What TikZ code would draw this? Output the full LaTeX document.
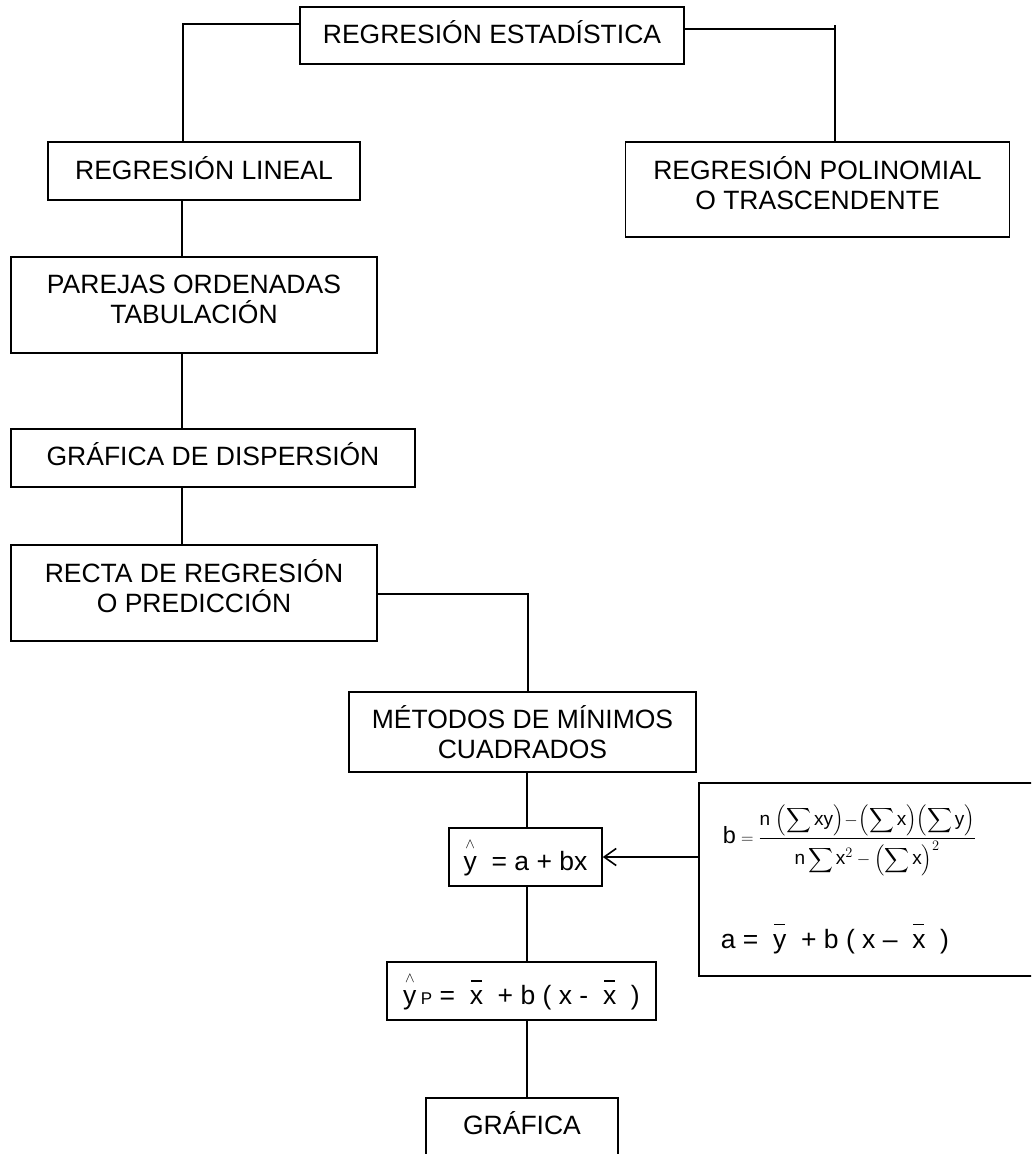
\documentclass[tikz,border=0pt]{standalone}
\usepackage{amsmath}
\usepackage{fontspec}
\setmainfont{Liberation Sans}
\usetikzlibrary{arrows.meta}

\newcommand{\barred}[1]{\ensuremath{\overset{\rule[4pt]{11pt}{1.5pt}}{\text{#1}}}}
\newcommand{\hatted}[1]{\ensuremath{\overset{\raisebox{3pt}{$\scriptscriptstyle\wedge$}}{\text{#1}}}}

\begin{document}
\begin{tikzpicture}[x=1pt,y=-1pt,line width=1.6pt,
  box/.style={draw,rectangle,align=center,inner sep=0pt,font=\fontsize{26.5}{30}\selectfont},
  lift/.style={execute at end node={\rule[-#1]{0pt}{0pt}}},
  txt/.style={inner sep=0pt,font=\fontsize{26.5}{30}\selectfont},
]
\useasboundingbox (0,0) rectangle (1031,1154);
\clip (0,0) rectangle (1031,1154);

\node (stat) [box,lift=7pt,minimum width=384pt,minimum height=57pt] at (492,35.5) {REGRESIÓN ESTADÍSTICA};
\node (lineal) [box,lift=6pt,minimum width=312pt,minimum height=58pt] at (204,171) {REGRESIÓN LINEAL};
\node (polin) [box,lift=12pt,minimum width=384pt,minimum height=95pt] at (817.5,189.5) {REGRESIÓN POLINOMIAL\\O TRASCENDENTE};
\node (parejas) [box,lift=12pt,minimum width=366pt,minimum height=96pt] at (194,305) {PAREJAS ORDENADAS\\TABULACIÓN};
\node (disp) [box,lift=8pt,minimum width=404pt,minimum height=58pt] at (213,458) {GRÁFICA DE DISPERSIÓN};
\node (recta) [box,lift=14pt,minimum width=366pt,minimum height=96pt] at (194,593) {RECTA DE REGRESIÓN\\O PREDICCIÓN};
\node (metodos) [box,minimum width=347pt,minimum height=80pt] at (522.5,732) {MÉTODOS DE MÍNIMOS\\CUADRADOS};
\node (yhat) [box,minimum width=153pt,minimum height=58pt] at (525.5,857) {\hatted{y}\ \ = a + bx};
\node (yp) [box,minimum width=269pt,minimum height=58pt] at (521.5,991) {\hatted{y}\,{\fontsize{17}{20}\selectfont P} = \ \barred{x}\ \ + b ( x - \ \barred{x}\ \ )};
\node (graf) [box,lift=8pt,minimum width=192pt,minimum height=58pt] at (522,1127) {GRÁFICA};
\node (formula) [box,minimum width=345pt,minimum height=193pt] at (871.5,879.5) {};

\node (bfrac) [txt,anchor=base west,font=\fontsize{19}{23}\selectfont] at (722,843)
  {{\fontsize{23.5}{26}\selectfont b} $= \dfrac{\displaystyle \text{n}\,\left(\sum \text{xy}\right)\!-\!\left(\sum \text{x}\right)\!\left(\sum \text{y}\right)}{\displaystyle \text{n}\sum \text{x}^2 - \left(\sum \text{x}\right)^2}$};
\node (aline) [txt,anchor=base west] at (720,948) {a = \ \barred{y}\ \ + b ( x – \ \barred{x}\ \ )};

\coordinate (bendL) at (183,24);
\coordinate (bendR) at (835,29);
\coordinate (bendM) at (528,594);
\coordinate (colL) at (182,0);
\coordinate (colM) at (527,0);

\draw (stat.west |- bendL) -- (bendL) -- (bendL |- lineal.north);
\draw (stat.east |- bendR) -- (bendR) -- (bendR |- polin.north);
\draw (bendR) -- ++(0,-4);
\draw (colL |- lineal.south) -- (colL |- parejas.north);
\draw (colL |- parejas.south) -- (colL |- disp.north);
\draw (colL |- disp.south) -- (colL |- recta.north);
\draw (recta.east |- bendM) -- (bendM) -- (bendM |- metodos.north);
\draw (colM |- metodos.south) -- (colM |- yhat.north);
\draw (colM |- yhat.south) -- (colM |- yp.north);
\draw (colM |- yp.south) -- (colM |- graf.north);
\draw[-{Straight Barb[length=12pt,width=17pt]}] (formula.west |- yhat.east) -- (yhat.east);

\end{tikzpicture}
\end{document}
